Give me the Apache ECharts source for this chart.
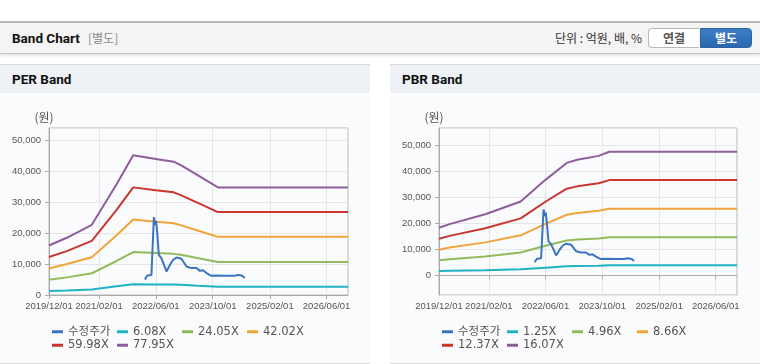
<!DOCTYPE html>
<html><head><meta charset="utf-8">
<script src="https://cdn.jsdelivr.net/npm/echarts@6/dist/echarts.min.js"></script>
<style>
html,body{margin:0;padding:0;background:#fff;}
body{width:760px;height:364px;position:relative;overflow:hidden;font-family:'Roboto','Noto Sans CJK KR',sans-serif;}
.hdr{position:absolute;left:0;top:21px;width:760px;height:30px;background:#f4f4f4;border-top:2px solid #b9b9b9;border-bottom:1px solid #c6c6c6;box-shadow:0 2px 2px rgba(0,0,0,0.10);}
.hdr .t{position:absolute;left:12px;top:6px;font-weight:bold;font-size:13.5px;color:#111;line-height:18px;}
.hdr .s{position:absolute;left:88px;top:6px;font-size:12px;color:#8a8a8a;line-height:18px;font-family:'Noto Sans CJK KR',sans-serif;}
.hdr .u{position:absolute;right:118px;top:6px;font-size:12px;color:#333;line-height:18px;font-family:'Noto Sans CJK KR',sans-serif;}
.btn{position:absolute;top:5px;height:18px;line-height:18px;font-size:12px;font-weight:bold;text-align:center;font-family:'Noto Sans CJK KR',sans-serif;box-sizing:content-box;}
.b1{left:648px;width:50px;background:#fff;border:1px solid #b9b9b9;border-right:none;border-radius:4px 0 0 4px;color:#555;}
.b2{left:700px;width:50px;background:linear-gradient(#3d7fc6,#2b68b0);border:1px solid #2a62a6;border-radius:0 4px 4px 0;color:#fff;}
.panel{position:absolute;top:64px;width:370px;height:298px;background:#fafbfc;border-top:1px solid #d9d9d9;border-bottom:1px solid #d9d9d9;}
.panel .pt{height:28px;background:#eef2f7;font-weight:bold;font-size:13.5px;color:#111;line-height:28px;padding-left:12px;}
#chart{position:absolute;left:0;top:0;width:760px;height:364px;}
</style></head>
<body>
<div class="hdr"><span class="t">Band Chart</span><span class="s">[별도]</span><span class="u">단위 : 억원, 배, %</span>
<div class="btn b1">연결</div><div class="btn b2">별도</div></div>
<div class="panel" style="left:0"><div class="pt">PER Band</div></div>
<div class="panel" style="left:390px"><div class="pt">PBR Band</div></div>
<div id="chart"></div>
<script>
// ---- data ----
const xTickLabels = ['2019/12/01','2021/02/01','2022/06/01','2023/10/01','2025/02/01','2026/06/01'];
const xRange = ['2019/12/01','2026/12/01'];

const perNames = ['수정주가','6.08X','24.05X','42.02X','59.98X','77.95X'];
const pbrNames = ['수정주가','1.25X','4.96X','8.66X','12.37X','16.07X'];

const priceDates = ['2022/02/28','2022/03/21','2022/04/25','2022/05/06','2022/05/16','2022/05/28','2022/06/04','2022/06/15','2022/06/27','2022/07/19','2022/08/10','2022/09/01','2022/10/01','2022/10/28','2022/11/25','2023/01/07','2023/02/19','2023/04/03','2023/05/15','2023/06/13','2023/07/10','2023/08/09','2023/09/21','2023/11/16','2024/01/13','2024/02/25','2024/04/07','2024/05/06','2024/06/09','2024/07/01'];
const priceValues = [5000,6300,6500,6600,25200,22700,24000,19400,13000,11900,9800,7600,9800,11400,12100,11700,9200,8700,8700,7800,8000,7100,6200,6300,6200,6200,6200,6500,6200,5500];

const perDates = ['2019/12/01','2020/05/01','2020/12/01','2021/07/01','2021/11/20','2022/06/01','2022/11/01','2023/01/01','2023/06/01','2023/11/15','2026/12/01'];
const per608  = [1300,1450,1800,2800,3500,3400,3400,3300,3000,2700,2700];
const per2405 = [4900,5700,7000,11000,13900,13600,13300,13000,11900,10700,10700];
const per4202 = [8600,10000,12200,19300,24400,23700,23200,22600,20800,18800,18800];
const per5998 = [12300,14200,17500,27500,34800,33900,33200,32300,29700,26800,26800];
const per7795 = [16000,18500,22700,35800,45200,44000,43100,42000,38600,34800,34800];

const pbrDates = ['2019/12/01','2020/03/01','2021/01/01','2021/11/01','2022/06/01','2022/12/01','2023/03/01','2023/09/01','2023/12/01','2026/12/01'];
const pbr125  = [1600,1700,1900,2300,2900,3400,3500,3600,3800,3800];
const pbr496  = [5700,6100,7200,8700,11300,13300,13700,14100,14600,14600];
const pbr866  = [9800,10600,12600,15300,19700,23200,23900,24700,25500,25500];
const pbr1237 = [14000,15100,18000,21800,28200,33200,34100,35300,36500,36500];
const pbr1607 = [18200,19600,23400,28300,36600,43100,44300,45800,47400,47400];

const perY = [0, 54000];
const pbrY = [-7600, 56500];

// ---- build ----
const colors = ['#3a74c3','#20b2c5','#91bb5a','#f2a33a','#c9362f','#8f5c9d'];
function ts(s){const p=s.split('/');return new Date(+p[0],+p[1]-1,+p[2]).getTime();}
function pad(n){return (n<10?'0':'')+n;}
function fmt(v){const d=new Date(v);return d.getFullYear()+'/'+pad(d.getMonth()+1)+'/'+pad(d.getDate());}
function pairs(dates, vals){return dates.map((d,i)=>[ts(d),vals[i]]);}
const tickTs = xTickLabels.map(ts);
const lblFont = "'Liberation Sans',sans-serif";
const legFont = "'DejaVu Sans','Noto Sans CJK KR',sans-serif";

function xAxis(g){return {type:'value',gridIndex:g,min:ts(xRange[0]),max:ts(xRange[1]),
  axisLine:{show:true,lineStyle:{color:'#aaaaaa'}},
  axisTick:{show:true,length:4,customValues:tickTs,lineStyle:{color:'#aaaaaa'}},
  axisLabel:{customValues:tickTs,formatter:fmt,color:'#555',fontSize:9.5,fontFamily:lblFont,margin:6,showMinLabel:true,hideOverlap:false},
  splitLine:{show:true,lineStyle:{color:'#e6e6e6'}}};}
function yAxis(g,ext){return {type:'value',gridIndex:g,min:ext[0],max:ext[1],splitNumber:5,
  name:'(원)',nameLocation:'end',nameGap:5,
  nameTextStyle:{color:'#555',fontSize:12,fontFamily:"'Noto Sans CJK KR',sans-serif",align:'center',padding:[0,10,0,0]},
  axisLine:{show:true,lineStyle:{color:'#aaaaaa'}},
  axisTick:{show:true,length:4,lineStyle:{color:'#aaaaaa'}},
  axisLabel:{color:'#555',fontSize:9.5,fontFamily:lblFont,margin:8,showMinLabel:ext[0]===0,showMaxLabel:false,
    formatter:v=>echarts.format.addCommas(v)},
  splitLine:{show:true,lineStyle:{color:'#e6e6e6'}}};}
function line(name,data,ci,g,z){return {name:name,type:'line',xAxisIndex:g,yAxisIndex:g,data:data,
  showSymbol:false,symbol:'none',z:z||2,lineStyle:{width:2,color:colors[ci]},itemStyle:{color:colors[ci]}};}
function legend(names,left){return {data:names,left:left,top:325,width:262,padding:0,itemGap:0,
  itemWidth:11,itemHeight:3,icon:'rect',
  textStyle:{width:49,fontSize:11.5,color:'#555',fontFamily:legFont,lineHeight:13.5}};}

const perBands=[per608,per2405,per4202,per5998,per7795];
const pbrBands=[pbr125,pbr496,pbr866,pbr1237,pbr1607];
const series=[];
series.push(line(perNames[0],pairs(priceDates,priceValues),0,0,5));
perBands.forEach((b,i)=>series.push(line(perNames[i+1],pairs(perDates,b),i+1,0)));
series.push(line(pbrNames[0],pairs(priceDates,priceValues),0,1,5));
pbrBands.forEach((b,i)=>series.push(line(pbrNames[i+1],pairs(pbrDates,b),i+1,1)));

const chart=echarts.init(document.getElementById('chart'),null,{renderer:'canvas'});
chart.setOption({
  animation:false,
  backgroundColor:'transparent',
  grid:[{left:49,top:128,width:299,height:167,show:true,borderColor:'#b9b9b9',borderWidth:1},
        {left:439,top:128,width:298,height:167,show:true,borderColor:'#b9b9b9',borderWidth:1}],
  xAxis:[xAxis(0),xAxis(1)],
  yAxis:[yAxis(0,perY),yAxis(1,pbrY)],
  legend:[legend(perNames,52),legend(pbrNames,442)],
  series:series
});
</script>
</body></html>
